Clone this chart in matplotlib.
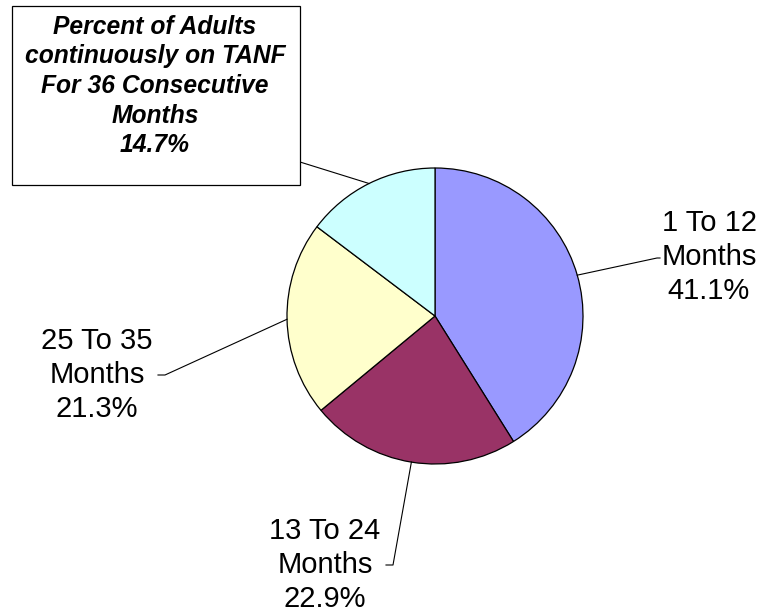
import numpy as np
import matplotlib
matplotlib.use("Agg")
import matplotlib.pyplot as plt
from matplotlib.patches import Rectangle

labels = ["1 To 12\nMonths", "13 To 24\nMonths", "25 To 35\nMonths",
          "Percent of Adults\ncontinuously on TANF\nFor 36 Consecutive\nMonths"]
values = [41.1, 22.9, 21.3, 14.7]
colors = ["#9999FF", "#993366", "#FFFFCC", "#CCFFFF"]

W, H = 760, 614
fig = plt.figure(figsize=(W / 100, H / 100), dpi=100)
ax = fig.add_axes([0, 0, 1, 1])

cx, cy, r = 435, H - 316, 148
wedges, _ = ax.pie(values, colors=colors, startangle=90, counterclock=False,
                   radius=r, center=(cx, cy), frame=True,
                   wedgeprops=dict(edgecolor="black", linewidth=0.9))
ax.set_xlim(0, W)
ax.set_ylim(0, H)
ax.set_aspect("equal")
ax.axis("off")

plt.rcParams["font.family"] = ["Liberation Sans", "DejaVu Sans"]

# label elbow points and text centres, in pixel coords
elbows = [((657, H - 258), (660, H - 258)),
          ((393, H - 565), (386, H - 565)),
          ((165, H - 375), (158, H - 375))]
text_pos = [(709, H - 257), (325, H - 565), (97, H - 375)]

for i, w in enumerate(wedges):
    mid = np.deg2rad((w.theta1 + w.theta2) / 2)
    ex, ey = cx + r * np.cos(mid), cy + r * np.sin(mid)
    if i < 3:
        (bx, by), (hx, hy) = elbows[i]
        ax.plot([ex, bx, hx], [ey, by, hy], color="black", lw=0.8)
        ax.text(text_pos[i][0], text_pos[i][1],
                labels[i] + "\n%.1f%%" % values[i],
                ha="center", va="center", fontsize=21, linespacing=1.27)
    else:
        ax.plot([ex, 300], [ey, H - 162], color="black", lw=0.8)
        ax.add_patch(Rectangle((12, H - 185), 288, 179, facecolor="white",
                               edgecolor="black", lw=0.9, zorder=3))
        ax.text(155, H - 86, labels[i] + "\n%.1f%%" % values[i],
                ha="center", va="center", fontsize=17.7, fontweight="bold",
                fontstyle="italic", linespacing=1.3, zorder=4)

fig.savefig("out.png", dpi=100)
